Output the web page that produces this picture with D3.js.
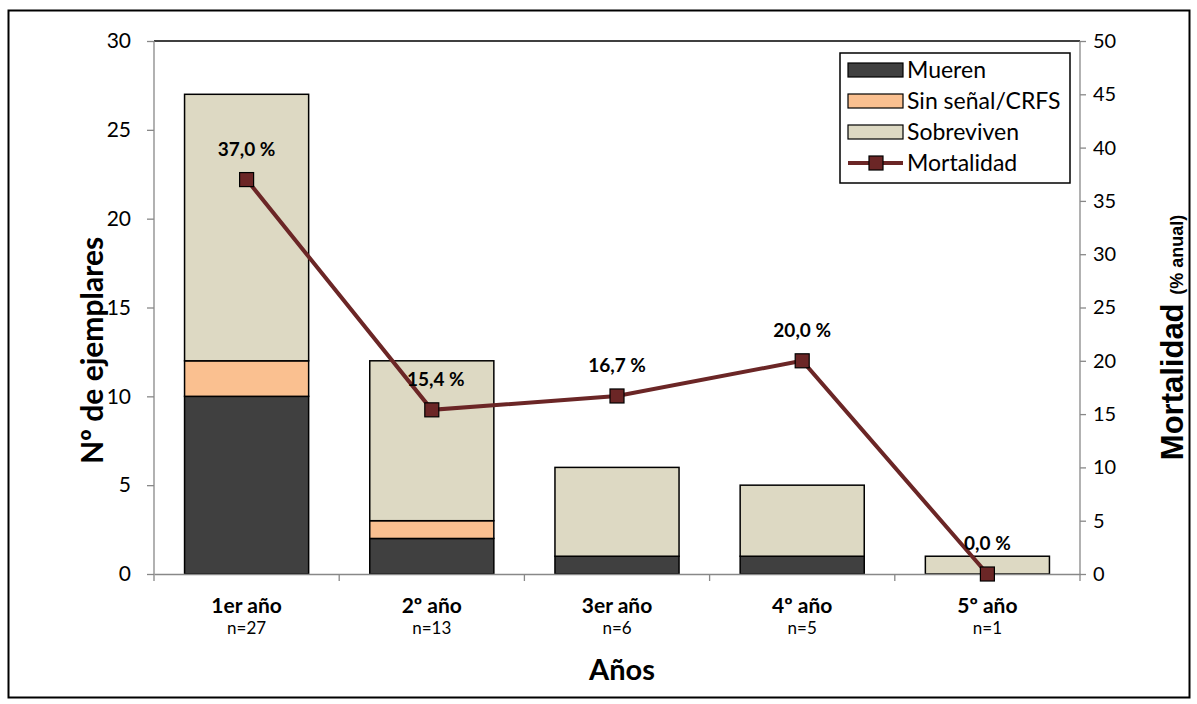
<!doctype html>
<html>
<head>
<meta charset="utf-8">
<script src="https://cdn.jsdelivr.net/npm/d3@7"></script>
<style>
  body { margin: 0; background: #fff; }
  svg { display: block; font-family: Lato, "Open Sans", sans-serif; }
  .tick text { font-family: Lato, sans-serif; font-size: 20px; fill: #000; }
  .tick line, .domain { stroke: #888; stroke-width: 1.3; }
</style>
</head>
<body>
<svg id="chart" width="1197" height="704"></svg>
<script>
  var categories = ['1er año', '2º año', '3er año', '4º año', '5º año'];
  var counts = ['n=27', 'n=13', 'n=6', 'n=5', 'n=1'];
  var mueren = [10, 2, 1, 1, 0];
  var sinSenal = [2, 1, 0, 0, 0];
  var sobreviven = [15, 9, 5, 4, 1];
  var mortalidad = [37.0, 15.4, 16.7, 20.0, 0.0];
  var leftTicks = [0, 5, 10, 15, 20, 25, 30];
  var rightTicks = [0, 5, 10, 15, 20, 25, 30, 35, 40, 45, 50];

  var series = [
    { name: 'Mueren', values: mueren, color: '#404040' },
    { name: 'Sin señal/CRFS', values: sinSenal, color: '#FAC090' },
    { name: 'Sobreviven', values: sobreviven, color: '#DDD9C3' }
  ];
  var lineColor = '#6B2626';

  var svg = d3.select('#chart');
  var margin = { left: 154, right: 117, top: 41, bottom: 130 };
  var W = 1197, H = 704;

  // outer frame
  svg.append('rect')
    .attr('x', 8.5).attr('y', 10.5)
    .attr('width', 1181).attr('height', 687)
    .attr('fill', 'none').attr('stroke', '#000').attr('stroke-width', 2);

  var x = d3.scaleBand().domain(categories)
    .range([margin.left, W - margin.right]).paddingInner(0.33).paddingOuter(0.165);
  var xb = d3.scaleBand().domain(categories).range([margin.left, W - margin.right]);
  var y = d3.scaleLinear().domain([0, 30]).range([H - margin.bottom, margin.top]);
  var y2 = d3.scaleLinear().domain([0, 50]).range([H - margin.bottom, margin.top]);

  // plot area top border
  svg.append('line')
    .attr('x1', margin.left).attr('x2', W - margin.right)
    .attr('y1', margin.top).attr('y2', margin.top)
    .attr('stroke', '#000').attr('stroke-width', 1.5);

  // stacked bars
  var stackData = categories.map(function (c, i) {
    var o = { cat: c };
    series.forEach(function (s) { o[s.name] = s.values[i]; });
    return o;
  });
  var stacked = d3.stack().keys(series.map(function (s) { return s.name; }))(stackData);

  svg.append('g').selectAll('g')
    .data(stacked)
    .join('g')
    .attr('fill', function (d, i) { return series[i].color; })
    .selectAll('rect')
    .data(function (d) { return d.filter(function (p) { return p[1] > p[0]; }); })
    .join('rect')
    .attr('x', function (d) { return x(d.data.cat); })
    .attr('width', x.bandwidth())
    .attr('y', function (d) { return y(d[1]); })
    .attr('height', function (d) { return y(d[0]) - y(d[1]); })
    .attr('stroke', '#000').attr('stroke-width', 1.5);

  // axes
  var gl = svg.append('g').attr('transform', 'translate(' + margin.left + ',0)')
    .call(d3.axisLeft(y).tickValues(leftTicks).tickSize(7).tickPadding(16));
  gl.selectAll('.tick text').style('font-size', '21px');
  var gr = svg.append('g').attr('transform', 'translate(' + (W - margin.right) + ',0)')
    .call(d3.axisRight(y2).tickValues(rightTicks).tickSize(6).tickPadding(7));
  var gx = svg.append('g').attr('transform', 'translate(0,' + (H - margin.bottom) + ')')
    .call(d3.axisBottom(xb).tickValues([]).tickSizeOuter(0));
  gx.selectAll('.bx').data(d3.range(categories.length + 1)).join('line')
    .attr('class', 'bx')
    .attr('x1', function (i) { return margin.left + i * xb.bandwidth(); })
    .attr('x2', function (i) { return margin.left + i * xb.bandwidth(); })
    .attr('y1', 0).attr('y2', 7)
    .attr('stroke', '#888').attr('stroke-width', 1.3);
  gl.select('.domain').attr('d', 'M0,' + y(0) + 'V' + y(30));
  gr.select('.domain').attr('d', 'M0,' + y2(0) + 'V' + y2(50));

  // category labels
  var cl = svg.append('g');
  cl.selectAll('.cat').data(categories).join('text')
    .attr('x', function (d) { return xb(d) + xb.bandwidth() / 2; })
    .attr('y', 613)
    .attr('text-anchor', 'middle')
    .attr('font-weight', 'bold').attr('font-size', 21)
    .text(function (d) { return d; });
  cl.selectAll('.n').data(counts).join('text')
    .attr('x', function (d, i) { return xb(categories[i]) + xb.bandwidth() / 2; })
    .attr('y', 634)
    .attr('text-anchor', 'middle')
    .attr('font-size', 17)
    .text(function (d) { return d; });

  // line
  var pts = categories.map(function (c, i) {
    return { x: xb(c) + xb.bandwidth() / 2, y: y2(mortalidad[i]), v: mortalidad[i] };
  });
  svg.append('path')
    .datum(pts)
    .attr('d', d3.line().x(function (d) { return d.x; }).y(function (d) { return d.y; }))
    .attr('fill', 'none').attr('stroke', lineColor).attr('stroke-width', 4);
  svg.append('g').selectAll('rect').data(pts).join('rect')
    .attr('x', function (d) { return d.x - 7; })
    .attr('y', function (d) { return d.y - 7; })
    .attr('width', 14).attr('height', 14)
    .attr('fill', lineColor).attr('stroke', '#000').attr('stroke-width', 1.2);
  var fmt = function (v) { return d3.format('.1f')(v).replace('.', ',') + ' %'; };
  svg.append('g').selectAll('text').data(pts).join('text')
    .attr('x', function (d, i) { return d.x + (i === 1 ? 4 : 0); })
    .attr('y', function (d) { return d.y - 24; })
    .attr('text-anchor', 'middle')
    .attr('font-weight', 'bold').attr('font-size', 19)
    .text(function (d) { return fmt(d.v); });

  // axis titles
  svg.append('text')
    .attr('transform', 'translate(103,' + ((y(0) + y(30)) / 2 + 43) + ') rotate(-90)')
    .attr('text-anchor', 'middle')
    .attr('font-weight', 'bold').attr('font-size', 30)
    .text('Nº de ejemplares');
  var rt = svg.append('text')
    .attr('transform', 'translate(1183,' + ((y(0) + y(30)) / 2 + 30) + ') rotate(-90)')
    .attr('text-anchor', 'middle')
    .style('font-family', '"Liberation Sans", Arial, sans-serif')
    .attr('font-weight', 'bold').attr('font-size', 31);
  rt.append('tspan').text('Mortalidad ');
  rt.append('tspan').attr('font-size', 18).text('(% anual)');
  svg.append('text')
    .attr('x', (margin.left + W - margin.right) / 2 + 5).attr('y', 680)
    .attr('text-anchor', 'middle')
    .attr('font-weight', 'bold').attr('font-size', 29)
    .text('Años');

  // legend
  var lg = svg.append('g').attr('transform', 'translate(840,53)');
  lg.append('rect').attr('width', 230).attr('height', 130)
    .attr('fill', '#fff').attr('stroke', '#000').attr('stroke-width', 1.5);
  series.forEach(function (s, i) {
    var cy = 17 + i * 31;
    lg.append('rect').attr('x', 8).attr('y', cy - 7).attr('width', 55).attr('height', 14)
      .attr('fill', s.color).attr('stroke', '#000').attr('stroke-width', 1.2);
    lg.append('text').attr('x', 67).attr('y', cy + 8).attr('font-size', 23).text(s.name);
  });
  var ly = 17 + 3 * 31;
  lg.append('line').attr('x1', 8).attr('x2', 63).attr('y1', ly).attr('y2', ly)
    .attr('stroke', lineColor).attr('stroke-width', 4);
  lg.append('rect').attr('x', 29).attr('y', ly - 7).attr('width', 14).attr('height', 14)
    .attr('fill', lineColor).attr('stroke', '#000').attr('stroke-width', 1.2);
  lg.append('text').attr('x', 67).attr('y', ly + 8).attr('font-size', 23).text('Mortalidad');
</script>
</body>
</html>
